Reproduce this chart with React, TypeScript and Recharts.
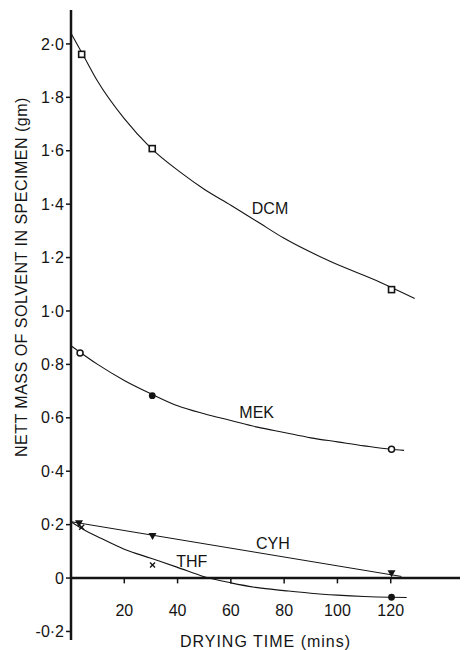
import React from "react"
import {
  ComposedChart,
  Line,
  Scatter,
  XAxis,
  YAxis,
  ReferenceLine,
  ReferenceDot,
} from "recharts"

// measured points (drying time in mins, nett mass in gm)
const DCM_TIME = [4, 30.5, 120.3]
const DCM_MASS = [1.961, 1.608, 1.08]
const MEK_OPEN_TIME = [3.4, 120.3]
const MEK_OPEN_MASS = [0.843, 0.482]
const MEK_FILLED_TIME = [30.5]
const MEK_FILLED_MASS = [0.683]
const CYH_TIME = [3, 30.6, 120.3]
const CYH_MASS = [0.205, 0.157, 0.018]
const THF_CROSS_TIME = [4, 30.6]
const THF_CROSS_MASS = [0.19, 0.049]
const THF_DOT_TIME = [120.3]
const THF_DOT_MASS = [-0.072]

// fitted curves
const DCM_CURVE_TIME = [0, 5, 10, 20, 30, 41, 50, 60, 70, 80, 97, 116, 129]
const DCM_CURVE_MASS = [2.04, 1.95, 1.86, 1.72, 1.61, 1.52, 1.456, 1.396, 1.334, 1.272, 1.187, 1.108, 1.047]
const MEK_CURVE_TIME = [0, 10, 20, 30, 40, 50, 60, 70, 80, 90, 100, 110, 120, 125]
const MEK_CURVE_MASS = [0.87, 0.8, 0.74, 0.69, 0.645, 0.615, 0.59, 0.565, 0.545, 0.525, 0.51, 0.495, 0.482, 0.478]
const CYH_LINE_TIME = [0, 124]
const CYH_LINE_MASS = [0.211, 0.006]
const THF_CURVE_TIME = [0, 5, 10, 20, 30, 40, 50, 60, 70, 80, 90, 100, 110, 120, 126]
const THF_CURVE_MASS = [0.211, 0.18, 0.155, 0.108, 0.074, 0.04, 0.005, -0.018, -0.036, -0.047, -0.057, -0.064, -0.069, -0.072, -0.073]

const X_TICKS = [20, 40, 60, 80, 100, 120]
const Y_TICKS = [-0.2, 0, 0.2, 0.4, 0.6, 0.8, 1.0, 1.2, 1.4, 1.6, 1.8, 2.0]

const SERIES_LABELS = [
  { name: "DCM", x: 74.7, y: 1.386 },
  { name: "MEK", x: 69.7, y: 0.619 },
  { name: "CYH", x: 75.8, y: 0.131 },
  { name: "THF", x: 45.3, y: 0.061 },
]

const zip = (xs: number[], ys: number[]) => xs.map((x, i) => ({ x, y: ys[i] }))

const INK = "#141414"
const FONT = "'Liberation Sans', Arial, sans-serif"

const fmt = (v: number) => (v === 0 ? "0" : v.toFixed(1).replace(".", "·"))

const Square = ({ cx, cy }: any) => (
  <rect x={cx - 3} y={cy - 3} width={6} height={6} fill="#fff" stroke={INK} strokeWidth={1.6} />
)
const OpenCircle = ({ cx, cy }: any) => (
  <circle cx={cx} cy={cy} r={3} fill="#fff" stroke={INK} strokeWidth={1.5} />
)
const FilledCircle = ({ cx, cy }: any) => <circle cx={cx} cy={cy} r={3.4} fill={INK} />
const Triangle = ({ cx, cy }: any) => (
  <polygon points={`${cx - 4},${cy - 3} ${cx + 4},${cy - 3} ${cx},${cy + 4}`} fill={INK} />
)
const Cross = ({ cx, cy }: any) => (
  <g stroke={INK} strokeWidth={1.4}>
    <line x1={cx - 2.5} y1={cy - 2.5} x2={cx + 2.5} y2={cy + 2.5} />
    <line x1={cx - 2.5} y1={cy + 2.5} x2={cx + 2.5} y2={cy - 2.5} />
  </g>
)

const YTitle = ({ viewBox }: any) => {
  const x = viewBox.x + 14
  const y = viewBox.y + viewBox.height * 0.424
  return (
    <text
      x={x}
      y={y}
      transform={`rotate(-90 ${x} ${y})`}
      textAnchor="middle"
      dominantBaseline="central"
      fill={INK}
      fontSize={16}
      letterSpacing={0.5}
      fontFamily={FONT}
    >
      NETT MASS OF SOLVENT IN SPECIMEN (gm)
    </text>
  )
}

export default function App() {
  return (
    <div style={{ width: 460, height: 642, fontFamily: FONT }}>
      <ComposedChart width={460} height={642} margin={{ top: 2, right: 8, bottom: 10, left: 0 }}>
        <XAxis dataKey="x" type="number" domain={[0, 146]} hide />
        <YAxis
          type="number"
          domain={[-0.232, 2.127]}
          ticks={Y_TICKS}
          tickFormatter={fmt}
          width={63}
          axisLine={{ stroke: INK, strokeWidth: 2.5 }}
          tickLine={{ stroke: INK, strokeWidth: 1.5 }}
          tickSize={5}
          tickMargin={2}
          tick={{ fill: INK, fontSize: 16, fontFamily: FONT }}
          label={<YTitle />}
        />
        <ReferenceLine y={0} stroke={INK} strokeWidth={2.5} />
        {X_TICKS.map((t) => (
          <ReferenceLine
            key={t}
            segment={[{ x: t, y: 0 }, { x: t, y: -0.02 }]}
            stroke={INK}
            strokeWidth={1.5}
            label={{ value: String(t), position: "bottom", offset: 21, fill: INK, fontSize: 16, fontFamily: FONT }}
          />
        ))}
        <ReferenceDot
          x={73}
          y={-0.2}
          r={0}
          stroke="none"
          fill="none"
          label={{ value: "DRYING TIME (mins)", position: "center", fill: INK, fontSize: 16, fontFamily: FONT, letterSpacing: 1, dy: 10 }}
        />

        <Line data={zip(DCM_CURVE_TIME, DCM_CURVE_MASS)} dataKey="y" type="monotone" stroke={INK} strokeWidth={1.1} dot={false} isAnimationActive={false} />
        <Line data={zip(MEK_CURVE_TIME, MEK_CURVE_MASS)} dataKey="y" type="monotone" stroke={INK} strokeWidth={1.1} dot={false} isAnimationActive={false} />
        <Line data={zip(CYH_LINE_TIME, CYH_LINE_MASS)} dataKey="y" type="linear" stroke={INK} strokeWidth={1} dot={false} isAnimationActive={false} />
        <Line data={zip(THF_CURVE_TIME, THF_CURVE_MASS)} dataKey="y" type="monotone" stroke={INK} strokeWidth={1.1} dot={false} isAnimationActive={false} />

        <Scatter data={zip(DCM_TIME, DCM_MASS)} dataKey="y" shape={Square} isAnimationActive={false} />
        <Scatter data={zip(MEK_OPEN_TIME, MEK_OPEN_MASS)} dataKey="y" shape={OpenCircle} isAnimationActive={false} />
        <Scatter data={zip(MEK_FILLED_TIME, MEK_FILLED_MASS)} dataKey="y" shape={FilledCircle} isAnimationActive={false} />
        <Scatter data={zip(CYH_TIME, CYH_MASS)} dataKey="y" shape={Triangle} isAnimationActive={false} />
        <Scatter data={zip(THF_CROSS_TIME, THF_CROSS_MASS)} dataKey="y" shape={Cross} isAnimationActive={false} />
        <Scatter data={zip(THF_DOT_TIME, THF_DOT_MASS)} dataKey="y" shape={FilledCircle} isAnimationActive={false} />

        {SERIES_LABELS.map((s) => (
          <ReferenceDot
            key={s.name}
            x={s.x}
            y={s.y}
            r={0}
            stroke="none"
            fill="none"
            label={{ value: s.name, position: "center", fill: INK, fontSize: 16, fontFamily: FONT }}
          />
        ))}
      </ComposedChart>
    </div>
  )
}
